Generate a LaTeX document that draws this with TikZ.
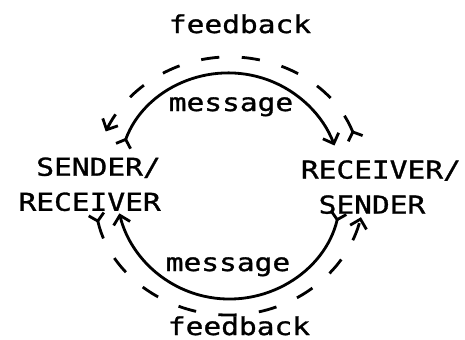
\documentclass[tikz,border=0pt]{standalone}
\usepackage{fontspec}
\usepackage{tikz}
\usetikzlibrary{arrows.meta}
\newfontfamily\plotter[FakeStretch=1.2,FakeBold=1.2]{DejaVu Sans Mono}

\tikzset{
  tekst/.style={font=\plotter\fontsize{17.5pt}{24.9pt}\selectfont, inner sep=0pt},
  fork/.tip={Straight Barb[reversed,length=5pt,width=11pt]},
  spids/.tip={Straight Barb[length=6pt,width=12pt]},
  besked/.style={line width=2pt, arrows={fork-spids}},
  svar/.style={besked, dash pattern=on 13pt off 16pt},
}

\begin{document}
\begin{tikzpicture}
\useasboundingbox (-5.725,-3.825) rectangle (5.9,4.65);
\coordinate (c) at (0,0);
%noder
\node[tekst,anchor=north east,align=right] (sr) at (-1.7,0.72) {SENDER/\\RECEIVER};
\node[tekst,anchor=north west,align=left] (rs) at (1.79,0.65) {RECEIVER/\\\hphantom{R}SENDER};
\node[tekst,anchor=base] (fbtop) at (0.275,3.825) {feedback};
\node[tekst,anchor=base] (msgtop) at (0.05,1.875) {message};
\node[tekst,anchor=base] (msgbot) at (-0.025,-2.125) {message};
\node[tekst,anchor=base] (fbbot) at (0.25,-3.725) {feedback};
%message
\coordinate (mt) at (160:2.825);
\coordinate (mb) at (-13:2.825);
\draw[besked] (mt) arc[start angle=160,end angle=21,radius=2.825];
\draw[besked] (mb) arc[start angle=-13,end angle=-166,radius=2.825];
%feedback
\coordinate (ft) at (21:3.4 and 3.225);
\coordinate (fb) at (192:3.4 and 3.225);
\draw[svar] (ft) arc[start angle=21,end angle=155,x radius=3.4,y radius=3.225];
\draw[svar] (fb) arc[start angle=192,end angle=346,x radius=3.4,y radius=3.225];
\end{tikzpicture}
\end{document}
